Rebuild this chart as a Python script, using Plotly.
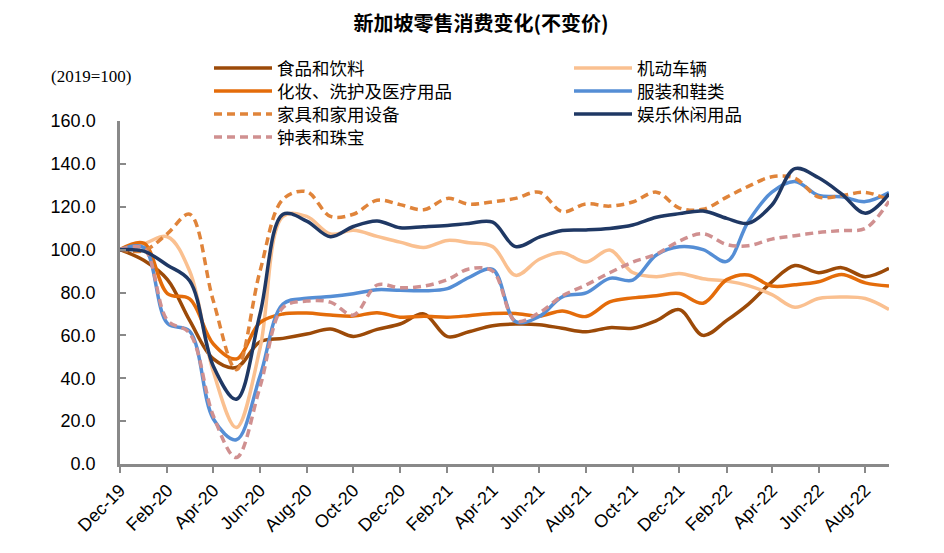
import plotly.graph_objects as go
import pandas as pd

months = pd.date_range("2019-12-01", "2022-09-01", freq="MS")

food = [100, 95, 86, 67, 49, 45, 57, 58.6, 60.6, 63, 59.5, 62.8, 65.3, 70, 59.4, 61.7, 64.5,
        65.3, 65, 63.3, 61.7, 63.6, 63.3, 66.9, 72, 60, 67, 74.5, 85, 92.6, 89.2, 91.6, 87.4, 91.3]
auto = [100, 102.7, 106, 90, 43, 17, 54, 115.5, 115.5, 107.3, 109, 106.2, 103.5, 101, 104.3, 103.2, 101.4,
        88, 95.5, 98.6, 94.2, 99.8, 89.3, 87.4, 88.9, 86.4, 85.3, 83.2, 79, 73.1, 77.2, 77.9, 77.2, 72.1]
cosmetics = [100, 103, 79.5, 77, 56, 49, 66, 70, 70.4, 69.5, 69, 70.6, 68.5, 68.9, 68.5, 69.2, 70.2,
             70.2, 69, 71.4, 68.8, 75.6, 77.5, 78.5, 79.5, 75, 86, 88.2, 83, 83.6, 85, 88.4, 84.5, 83]
apparel = [100, 101, 65.6, 62, 21, 11.3, 41, 74.6, 77.3, 78.1, 79.4, 81.3, 81, 80.8, 81.8, 87, 90.8,
           66.4, 68.8, 78, 79.8, 86.6, 85.8, 97.5, 101.3, 100, 94.5, 113, 126.8, 131.8, 125.3, 124.7, 122.4, 126.6]
furniture = [100, 99.5, 107.5, 116.5, 76, 44, 90, 123.5, 127, 115.5, 116.5, 123, 121, 118.6, 123.9, 121.2, 122.3,
             123.9, 126.8, 117.7, 121.3, 120.3, 122.2, 126.8, 119.4, 118.8, 124.5, 129.5, 134, 133.3, 124.5, 125.2, 126.7, 123.1]
watches = [100, 100.5, 67, 61, 22.4, 3, 36, 73, 76, 75.5, 69.5, 83.5, 82.2, 83, 86, 91, 90,
           66.6, 70.6, 78.4, 83.5, 89.2, 94.2, 97.9, 104, 107.4, 102.4, 101.8, 104.9, 106.5, 108, 108.9, 109.9, 122.6]
recreation = [100, 99.3, 92.7, 85.5, 45.6, 30.2, 70, 116.5, 113.3, 106, 110.8, 113.4, 110.2, 110.7, 111.3, 112.2, 112.8,
              101.4, 105.8, 108.9, 109.2, 109.9, 111.5, 115.1, 116.8, 118, 114.6, 112.3, 120.8, 137.8, 133.5, 126, 117, 126]

names = ["食品和饮料", "机动车辆", "化妆、洗护及医疗用品", "服装和鞋类", "家具和家用设备", "钟表和珠宝", "娱乐休闲用品"]
series = [food, auto, cosmetics, apparel, furniture, watches, recreation]
colors = ["#9C4A08", "#FAC090", "#E46C0A", "#558ED5", "#E0843A", "#D09090", "#1F3864"]
dashes = ["solid", "solid", "solid", "solid", "8px,5px", "8px,5px", "solid"]
# legend slot: (column, row)
slots = [(0, 0), (1, 0), (0, 1), (1, 1), (0, 2), (0, 3), (1, 2)]

W, H = 936, 545
L, R, T, B = 112, 55, 113, 89
pw, ph = W - L - R, H - T - B

cjk = "Noto Sans CJK SC"
fig = go.Figure()
legend_layouts = {}
col_x = [201, 561]
row_y = [60, 83, 106, 129]
for k, (n, s, c, d, (ci, ri)) in enumerate(zip(names, series, colors, dashes, slots)):
    lname = "legend" if k == 0 else f"legend{k + 1}"
    fig.add_trace(go.Scatter(x=months, y=s, name=n, mode="lines",
                             line=dict(color=c, width=3.5, dash=d, shape="spline", smoothing=1.0),
                             legend=lname))
    legend_layouts[lname] = dict(
        x=(col_x[ci] - L) / pw, y=(H - B - row_y[ri]) / ph,
        xanchor="left", yanchor="middle", orientation="v", bgcolor="rgba(0,0,0,0)",
        font=dict(family=cjk, size=17.5, color="#000000"), itemwidth=58, itemclick=False)

fig.update_layout(
    width=W, height=H,
    margin=dict(l=L, r=R, t=T, b=B),
    paper_bgcolor="white", plot_bgcolor="white",
    title=dict(text="<b>新加坡零售消费变化(不变价)</b>", x=(473 / W), xanchor="center",
               y=1 - 15.5 / H, yanchor="middle", font=dict(family=cjk, size=20, color="#000000")),
    showlegend=True,
    xaxis=dict(range=[months[0], months[-1]], tickformat="%b-%y", dtick="M2", tick0="2019-12-01",
               tickangle=-45, ticks="outside", ticklen=6, tickwidth=2, tickcolor="#898989",
               showline=True, linecolor="#898989", linewidth=2.5, showgrid=False, zeroline=False,
               tickfont=dict(family="Liberation Sans", size=18, color="#000000")),
    yaxis=dict(range=[0, 160], dtick=20, tickformat=".1f", ticks="inside", ticklen=6, tickwidth=2,
               tickcolor="#898989", showline=True, linecolor="#898989", linewidth=2.5,
               showgrid=False, zeroline=False, ticklabelstandoff=18,
               tickfont=dict(family="Liberation Sans", size=18, color="#000000")),
    annotations=[dict(text="(2019=100)", xref="paper", yref="paper", x=(82.5 - L) / pw, y=(H - B - 68) / ph,
                      xanchor="center", yanchor="middle", showarrow=False,
                      font=dict(family="Liberation Serif", size=17, color="#000000"))],
    **legend_layouts,
)

fig.write_html("out.html")
